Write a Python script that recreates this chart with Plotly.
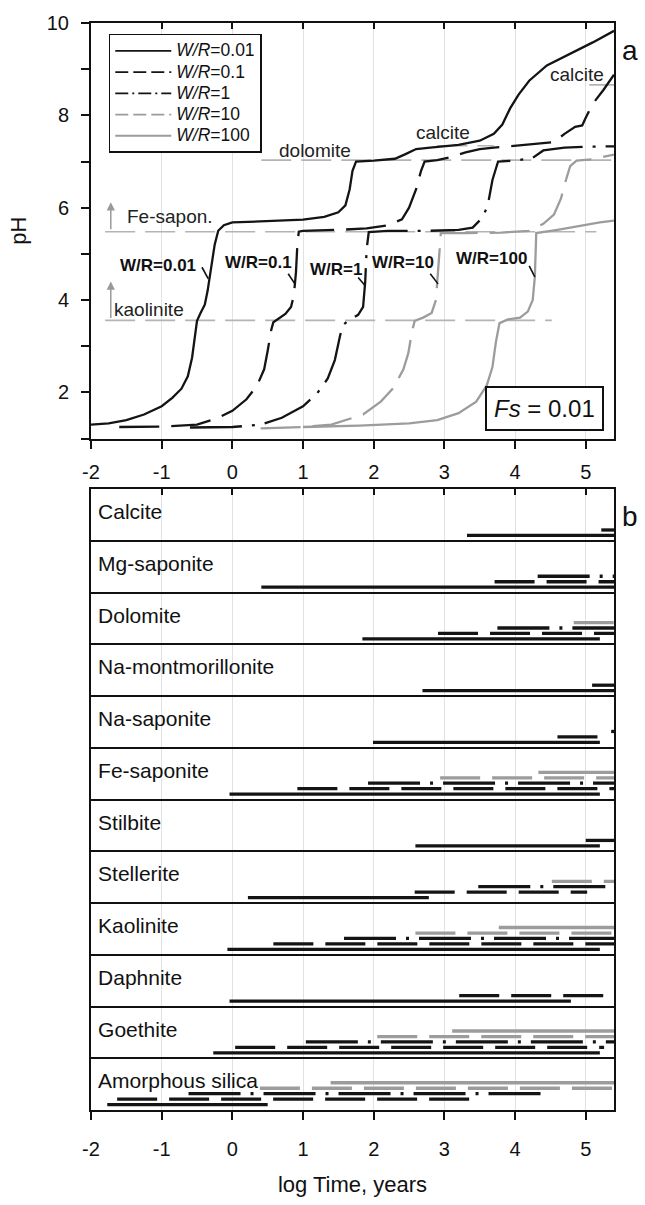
import plotly.graph_objects as go

# ---------------- data ----------------
wr_names = ["0.01", "0.1", "1", "10", "100"]

# x tick labels (hyphen minus as in the original)
x_tickvals = [-2, -1, 0, 1, 2, 3, 4, 5]
x_ticktext = ["-2", "-1", "0", "1", "2", "3", "4", "5"]

# pH vs log time curves (panel a)
ph001_x = [-2.0, -1.75, -1.5, -1.25, -1.0, -0.85, -0.72, -0.63, -0.57, -0.53, -0.5, -0.45, -0.39, -0.35,
           -0.3, -0.25, -0.2, -0.12, 0.0, 0.5, 1.0, 1.3, 1.5, 1.6, 1.66, 1.7, 1.75, 2.0, 2.3, 2.45, 2.6,
           2.8, 3.2, 3.5, 3.7, 3.82, 3.93, 4.05, 4.2, 4.45, 4.8, 5.1, 5.4]
ph001_y = [1.30, 1.33, 1.40, 1.52, 1.70, 1.88, 2.08, 2.35, 2.75, 3.2, 3.55, 3.72, 3.9, 4.2,
           4.7, 5.2, 5.5, 5.62, 5.68, 5.71, 5.74, 5.8, 5.9, 6.05, 6.4, 6.8, 7.0, 7.02, 7.06, 7.16, 7.27,
           7.3, 7.36, 7.45, 7.6, 7.8, 8.15, 8.45, 8.75, 9.08, 9.35, 9.58, 9.83]

ph01_x = [-1.6, -1.0, -0.5, -0.2, 0.0, 0.2, 0.35, 0.45, 0.5, 0.55, 0.58, 0.65, 0.75, 0.83, 0.87, 0.9,
          0.92, 0.94, 1.0, 1.5, 1.9, 2.2, 2.4, 2.5, 2.6, 2.67, 2.72, 2.9, 3.1, 3.3, 3.5, 3.7, 4.0, 4.3,
          4.55, 4.7, 4.85, 4.95, 5.0, 5.1, 5.25, 5.4]
ph01_y = [1.25, 1.26, 1.3, 1.45, 1.6, 1.85, 2.15, 2.5, 2.9, 3.35, 3.52, 3.6, 3.7, 3.85, 4.1, 4.6,
          5.2, 5.48, 5.5, 5.52, 5.55, 5.62, 5.75, 6.0, 6.4, 6.8, 7.0, 7.03, 7.1, 7.2, 7.27, 7.3, 7.34, 7.38,
          7.42, 7.6, 7.75, 7.78, 7.95, 8.25, 8.55, 8.88]

ph1_x = [-0.6, 0.0, 0.4, 0.7, 1.0, 1.2, 1.35, 1.45, 1.52, 1.56, 1.65, 1.78, 1.85, 1.88, 1.9, 1.93,
         2.2, 2.8, 3.2, 3.4, 3.55, 3.62, 3.68, 3.76, 4.0, 4.25, 4.4, 4.7, 5.0, 5.4]
ph1_y = [1.24, 1.25, 1.3, 1.45, 1.7, 1.98, 2.3, 2.7, 3.2, 3.45, 3.57, 3.68, 3.85, 4.4, 5.1, 5.47,
         5.5, 5.5, 5.52, 5.57, 5.8, 6.1, 6.6, 7.0, 7.02, 7.08, 7.24, 7.3, 7.32, 7.33]

ph10_x = [0.4, 1.0, 1.4, 1.85, 2.1, 2.28, 2.42, 2.49, 2.54, 2.58, 2.7, 2.82, 2.88, 2.91, 2.93, 2.95,
          3.3, 3.8, 4.2, 4.4, 4.55, 4.65, 4.72, 4.78, 4.87, 5.1, 5.4]
ph10_y = [1.22, 1.25, 1.3, 1.52, 1.8, 2.1, 2.5, 2.85, 3.3, 3.55, 3.62, 3.72, 4.0, 4.6, 5.2, 5.45,
          5.45, 5.46, 5.5, 5.65, 5.85, 6.2, 6.6, 6.9, 7.02, 7.05, 7.15]

ph100_x = [1.0, 1.8, 2.5, 2.9, 3.2, 3.45, 3.6, 3.68, 3.73, 3.78, 3.9, 4.07, 4.18, 4.25, 4.28, 4.29,
           4.3, 4.6, 4.96, 5.2, 5.4]
ph100_y = [1.25, 1.28, 1.33, 1.4, 1.55, 1.8, 2.15, 2.55, 3.1, 3.5, 3.58, 3.62, 3.75, 4.0, 4.5, 5.0,
           5.45, 5.52, 5.62, 5.68, 5.72]

# threshold (reference) lines: name, pH, x from, x to
ref_lines = [("kaolinite", 3.56, -1.8, 4.52), ("Fe-sapon.", 5.48, -1.8, 5.15),
             ("dolomite", 7.03, 0.41, 5.4), ("calcite1", 7.34, 2.9, 3.7), ("calcite2", 8.66, 5.05, 5.4)]

# mineral rows (panel b), top to bottom
minerals = ["Calcite", "Mg-saponite", "Dolomite", "Na-montmorillonite", "Na-saponite", "Fe-saponite",
            "Stilbite", "Stellerite", "Kaolinite", "Daphnite", "Goethite", "Amorphous silica"]

# stability ranges (mineral, log t start, log t end) for each W/R
bars_001 = [("Calcite", 3.32, 5.4), ("Mg-saponite", 0.41, 5.4), ("Dolomite", 1.84, 5.2),
            ("Na-montmorillonite", 2.69, 5.4), ("Na-saponite", 1.99, 5.2), ("Fe-saponite", -0.04, 5.2),
            ("Stilbite", 2.59, 5.2), ("Stellerite", 0.22, 2.78), ("Kaolinite", -0.07, 5.2),
            ("Daphnite", -0.04, 4.79), ("Goethite", -0.27, 5.2), ("Amorphous silica", -1.77, 0.5)]
bars_01 = [("Calcite", 5.22, 5.4), ("Mg-saponite", 3.71, 5.4), ("Dolomite", 2.91, 5.4),
           ("Na-montmorillonite", 5.09, 5.4), ("Na-saponite", 4.6, 5.2), ("Fe-saponite", 0.92, 5.4),
           ("Stilbite", 5.0, 5.4), ("Stellerite", 2.58, 5.02), ("Kaolinite", 0.58, 5.4),
           ("Daphnite", 3.21, 5.33), ("Goethite", 0.04, 5.26), ("Amorphous silica", -1.63, 3.52)]
bars_1 = [("Mg-saponite", 4.32, 5.4), ("Dolomite", 3.75, 5.4), ("Na-saponite", 5.36, 5.4),
          ("Fe-saponite", 1.92, 5.4), ("Stellerite", 3.48, 5.4), ("Kaolinite", 1.58, 5.4),
          ("Goethite", 1.04, 5.4), ("Amorphous silica", -0.62, 4.46)]
bars_10 = [("Dolomite", 4.83, 5.4), ("Fe-saponite", 2.94, 5.4), ("Stellerite", 4.52, 5.4),
           ("Kaolinite", 2.59, 5.4), ("Goethite", 2.05, 5.4), ("Amorphous silica", 0.39, 5.4)]
bars_100 = [("Fe-saponite", 4.33, 5.4), ("Kaolinite", 3.77, 5.4), ("Goethite", 3.11, 5.4),
            ("Amorphous silica", 1.39, 5.4)]

# W/R curve labels: text position and leader line (x0, y0, x1, y1)
wr_label_x = [-1.05, 0.37, 1.46, 2.41, 3.66]
wr_label_y = [4.74, 4.82, 4.67, 4.82, 4.89]
wr_leaders = [(-0.43, 4.71, -0.34, 4.46), (0.79, 4.57, 0.885, 4.35), (1.78, 4.49, 1.88, 4.31),
              (2.8, 4.57, 2.91, 4.35), (4.2, 4.74, 4.28, 4.5)]

# ---------------- styling ----------------
FONT = "Liberation Sans, Arial, sans-serif"
BLACK = "#141414"
GRAY = "#9c9c9c"
REFGRAY = "#b4b4b4"
styles = [dict(color=BLACK, dash="solid"), dict(color=BLACK, dash="40px,12px"),
          dict(color=BLACK, dash="52px,10px,3px,10px"), dict(color=GRAY, dash="40px,12px"),
          dict(color=GRAY, dash="solid")]
legend_dash = ["solid", "13px,5px", "13px,4px,2px,4px", "13px,5px", "solid"]
bar_offsets = [0.105, 0.21, 0.316, 0.42, 0.527]

fig = go.Figure()

# reference lines
for name, ph, x0, x1 in ref_lines:
    fig.add_trace(go.Scatter(x=[x0, x1], y=[ph, ph], mode="lines", xaxis="x", yaxis="y",
                             line=dict(color=REFGRAY, width=1.6, dash="30px,10px"),
                             showlegend=False, hoverinfo="skip"))

curves = [(ph001_x, ph001_y), (ph01_x, ph01_y), (ph1_x, ph1_y), (ph10_x, ph10_y), (ph100_x, ph100_y)]
for k, (cx, cy) in enumerate(curves):
    fig.add_trace(go.Scatter(x=cx, y=cy, mode="lines", xaxis="x", yaxis="y",
                             line=dict(color=styles[k]["color"], width=2.3, dash=styles[k]["dash"]),
                             showlegend=False, name="W/R=" + wr_names[k]))
# legend entries
for k in range(5):
    fig.add_trace(go.Scatter(x=[None], y=[None], mode="lines", xaxis="x", yaxis="y",
                             line=dict(color=styles[k]["color"], width=1.8, dash=legend_dash[k]),
                             name="<span style='font-size:17.5px'><i>W/R</i>=" + wr_names[k] + "</span>",
                             showlegend=True))

# mineral bars
nrow = len(minerals)
for k, bars in enumerate([bars_001, bars_01, bars_1, bars_10, bars_100]):
    for m, x0, x1 in bars:
        row = nrow - 1 - minerals.index(m)
        yy = row + bar_offsets[k]
        fig.add_trace(go.Scatter(x=[x0, x1], y=[yy, yy], mode="lines", xaxis="x2", yaxis="y2",
                                 line=dict(color=styles[k]["color"], width=3.3, dash=styles[k]["dash"]),
                                 showlegend=False, hoverinfo="skip"))

# row labels
fig.add_trace(go.Scatter(x=[-1.9] * nrow, y=[nrow - 1 - i + 0.52 for i in range(nrow)],
                         mode="text", text=minerals, textposition="middle right",
                         textfont=dict(family=FONT, size=21, color="#111"),
                         xaxis="x2", yaxis="y2", showlegend=False, hoverinfo="skip"))

# dummy traces for overlay (inner top ticks)
fig.add_trace(go.Scatter(x=[None], y=[None], xaxis="x3", yaxis="y", showlegend=False))
fig.add_trace(go.Scatter(x=[None], y=[None], xaxis="x4", yaxis="y2", showlegend=False))

# annotations
ann = []
for k in range(5):
    ann.append(dict(x=wr_label_x[k], y=wr_label_y[k], xref="x", yref="y", showarrow=False,
                    text="<b>W/R=" + wr_names[k] + "</b>", font=dict(family=FONT, size=17, color="#111")))
for txt, x, y in [("Fe-sapon.", -1.52, 5.8), ("kaolinite", -1.70, 3.8), ("dolomite", 0.63, 7.23)]:
    ann.append(dict(x=x, y=y, xref="x", yref="y", showarrow=False, xanchor="left", text=txt,
                    font=dict(family=FONT, size=19, color="#222")))
for x, y in [(2.98, 7.62), (4.88, 8.88)]:
    ann.append(dict(x=x, y=y, xref="x", yref="y", showarrow=False, text="calcite",
                    font=dict(family=FONT, size=19, color="#222")))
for y0, y1 in [(5.5, 6.12), (3.58, 4.4)]:
    ann.append(dict(x=-1.72, y=y1, ax=-1.72, ay=y0, xref="x", yref="y", axref="x", ayref="y",
                    showarrow=True, arrowhead=2, arrowsize=1.1, arrowwidth=1.5, arrowcolor="#999",
                    text=""))
ann.append(dict(x=4.41, y=1.66, xref="x", yref="y", showarrow=False, text="<i>Fs</i> = 0.01",
                font=dict(family=FONT, size=24, color="#111"), bordercolor="#111", borderwidth=2,
                borderpad=7, bgcolor="white"))
ann.append(dict(x=1.03, y=0.9745, xref="paper", yref="paper", showarrow=False, text="a",
                font=dict(family=FONT, size=28, color="#111"), xanchor="center", yanchor="middle"))
ann.append(dict(x=1.03, y=0.5456, xref="paper", yref="paper", showarrow=False, text="b",
                font=dict(family=FONT, size=28, color="#111"), xanchor="center", yanchor="middle"))

shapes = []
for x0, y0, x1, y1 in wr_leaders:
    shapes.append(dict(type="line", x0=x0, y0=y0, x1=x1, y1=y1, xref="x", yref="y",
                       line=dict(color="#111", width=1.6)))

axis_common = dict(range=[-2, 5.4], tickmode="array", tickvals=x_tickvals, ticktext=x_ticktext,
                   ticks="outside", ticklen=8, tickwidth=1.5,
                   tickcolor="#111", showline=True, linecolor="#111", linewidth=2, mirror=True,
                   showgrid=True, gridcolor="#e2e2e2", gridwidth=1, zeroline=False,
                   tickfont=dict(family=FONT, size=20, color="#111"))
top_ticks = dict(range=[-2, 5.4], tickmode="array", tickvals=x_tickvals, ticks="inside", ticklen=6,
                 tickwidth=1.5, tickcolor="#111", showticklabels=False, showgrid=False, showline=False,
                 zeroline=False, side="top")

fig.update_layout(
    width=645, height=1205, margin=dict(l=91, r=31, t=22, b=87),
    paper_bgcolor="white", plot_bgcolor="white",
    font=dict(family=FONT, color="#111"),
    xaxis=dict(domain=[0, 1], anchor="y", ticklabelstandoff=6, **axis_common),
    yaxis=dict(domain=[0.6177, 1], anchor="x", range=[1, 10], dtick=2, tick0=0, ticks="outside",
               ticklen=8, tickwidth=1.5, tickcolor="#111", showline=True, linecolor="#111",
               linewidth=2, mirror=True, showgrid=False, zeroline=False,
               minor=dict(dtick=1, ticks="outside", ticklen=8, tickwidth=1.5, tickcolor="#111",
                          showgrid=False),
               tickfont=dict(family=FONT, size=20, color="#111"), ticklabelstandoff=8,
               title=dict(text="pH", font=dict(family=FONT, size=22, color="#111"), standoff=14)),
    xaxis3=dict(overlaying="x", anchor="y", **top_ticks),
    xaxis2=dict(domain=[0, 1], anchor="y2", ticklabelstandoff=12,
                title=dict(text="log Time, years", font=dict(family=FONT, size=22, color="#111"),
                           standoff=18), **axis_common),
    yaxis2=dict(domain=[0, 0.5712], anchor="x2", range=[0, 12], dtick=1, tick0=0, showgrid=True,
                gridcolor="#111", gridwidth=2, showticklabels=False, ticks="", showline=True,
                linecolor="#111", linewidth=2, mirror=True, zeroline=False),
    xaxis4=dict(overlaying="x2", anchor="y2", **top_ticks),
    legend=dict(x=0.034, y=0.99, xanchor="left", yanchor="top", bgcolor="white",
                bordercolor="#111", borderwidth=1.5, font=dict(family=FONT, size=14, color="#111"),
                tracegroupgap=0, itemwidth=56),
    annotations=ann, shapes=shapes, showlegend=True,
)

fig.write_html("out.html")
